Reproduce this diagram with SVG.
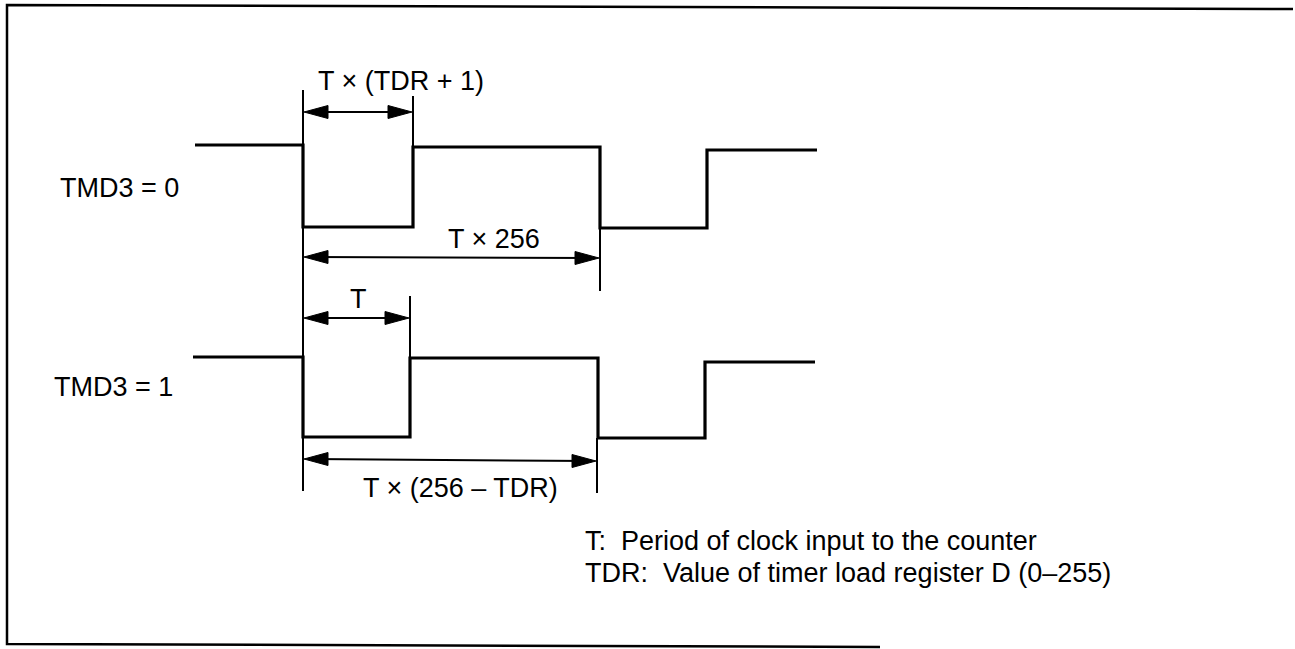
<svg xmlns="http://www.w3.org/2000/svg" xmlns:xlink="http://www.w3.org/1999/xlink" width="1295" height="649" viewBox="0 0 1295 649">
<style>
.frame{fill:none;stroke:#000;stroke-width:2.5}
.wave{fill:none;stroke:#000;stroke-width:3.2;stroke-linejoin:miter}
.ext{fill:none;stroke:#000;stroke-width:2}
.dim{fill:none;stroke:#000;stroke-width:2}
.head{fill:#000;stroke:#000;stroke-width:1}
text{font-family:"Liberation Sans",Arial,sans-serif;font-size:27px;fill:#000;white-space:pre}
</style>
<defs>
<path id="arr" class="head" d="M0,0 L-24,-6.5 L-24,6.5 Z"/>
</defs>
<g id="frame">
<path class="frame" d="M1293,9 L7,5 L7,644 L880,647"/>
</g>
<g id="wave-tmd3-0">
<text x="60" y="197">TMD3 = 0</text>
<path class="wave" d="M195,145 H303 V227 H413 V147 H600 V228 H707 V150 H817"/>
</g>
<g id="wave-tmd3-1">
<text x="54" y="396">TMD3 = 1</text>
<path class="wave" d="M193,357 H303 V437 H410 V358 H598 V438 H705 V362 H815"/>
</g>
<g id="connectors">
<line class="ext" x1="303" y1="90" x2="303" y2="491"/>
<line class="ext" x1="413" y1="96" x2="413" y2="147"/>
<line class="ext" x1="600" y1="228" x2="600" y2="291"/>
<line class="ext" x1="410" y1="296" x2="410" y2="358"/>
<line class="ext" x1="597" y1="438" x2="597" y2="493"/>
<line class="dim" x1="310" y1="112" x2="406" y2="112"/>
<use xlink:href="#arr" href="#arr" transform="translate(304,112) rotate(180)"/>
<use xlink:href="#arr" href="#arr" transform="translate(412,112)"/>
<line class="dim" x1="310" y1="257" x2="593" y2="258"/>
<use xlink:href="#arr" href="#arr" transform="translate(304,257) rotate(180)"/>
<use xlink:href="#arr" href="#arr" transform="translate(599,258)"/>
<line class="dim" x1="310" y1="318" x2="403" y2="318"/>
<use xlink:href="#arr" href="#arr" transform="translate(304,318) rotate(180)"/>
<use xlink:href="#arr" href="#arr" transform="translate(409,318)"/>
<line class="dim" x1="310" y1="459" x2="590" y2="461"/>
<use xlink:href="#arr" href="#arr" transform="translate(304,459) rotate(180)"/>
<use xlink:href="#arr" href="#arr" transform="translate(596,461)"/>
</g>
<g id="labels">
<text x="318" y="90">T × (TDR + 1)</text>
<text x="448" y="248">T × 256</text>
<text x="350" y="308">T</text>
<text x="363" y="497">T × (256 – TDR)</text>
</g>
<g id="legend">
<text x="585" y="550" xml:space="preserve">T:  Period of clock input to the counter</text>
<text x="585" y="582" xml:space="preserve">TDR:  Value of timer load register D (0–255)</text>
</g>
</svg>
